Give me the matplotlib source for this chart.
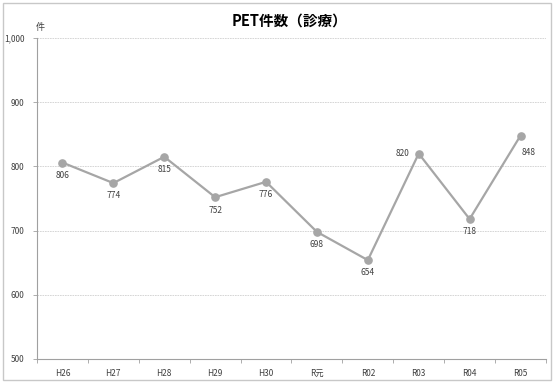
import matplotlib
matplotlib.use("Agg")
import matplotlib.pyplot as plt
from matplotlib.patches import Rectangle

plt.rcParams['font.family'] = ['Noto Sans CJK JP', 'DejaVu Sans']

# PET counts by fiscal year
years = ["H26", "H27", "H28", "H29", "H30", "R元", "R02", "R03", "R04", "R05"]
counts = [806, 774, 815, 752, 776, 698, 654, 820, 718, 848]
# where each value label sits relative to its point
label_pos = ["below"] * 7 + ["left", "below", "below-right"]

fig = plt.figure(figsize=(5.55, 3.83), dpi=100)
ax = fig.add_axes([0.0667, 0.0627, 0.917, 0.838])

x = list(range(len(years)))
ax.plot(x, counts, color="#A6A6A6", lw=1.6, marker="o", ms=5.2,
        markerfacecolor="#A6A6A6", markeredgecolor="#A6A6A6", zorder=3)

for xi, v, pos in zip(x, counts, label_pos):
    if pos == "left":
        ax.annotate(str(v), (xi, v), xytext=(-7, 0), textcoords="offset points",
                    ha="right", va="center", fontsize=6, color="#404040")
    elif pos == "below-right":
        ax.annotate(str(v), (xi, v), xytext=(6, -9), textcoords="offset points",
                    ha="center", va="top", fontsize=6, color="#404040")
    else:
        ax.annotate(str(v), (xi, v), xytext=(0, -6), textcoords="offset points",
                    ha="center", va="top", fontsize=6, color="#404040")

ax.set_xlim(-0.5, len(years) - 0.5)
ax.set_ylim(500, 1000)
ax.set_yticks(range(500, 1001, 100))
ax.set_yticklabels([f"{t:,}" for t in range(500, 1001, 100)])
ax.set_xticks(x)
ax.set_xticklabels(years)
ax.set_xticks([i - 0.5 for i in range(len(years) + 1)], minor=True)

ax.grid(axis="y", color="#D0D0D0", lw=0.6, ls=(0, (2, 1)))
ax.set_axisbelow(True)
for s in ["top", "right"]:
    ax.spines[s].set_visible(False)
for s in ["left", "bottom"]:
    ax.spines[s].set_color("#A0A0A0")
    ax.spines[s].set_linewidth(0.8)

ax.tick_params(axis="y", labelsize=6, colors="#404040", length=3, width=0.6,
               color="#A0A0A0", pad=6)
ax.tick_params(axis="x", which="major", labelsize=6, colors="#404040",
               length=0, pad=7)
ax.tick_params(axis="x", which="minor", length=3, width=0.6, color="#A0A0A0")

fig.text(0.522, 0.947, "PET件数（診療）", ha="center", va="center",
         fontsize=10.5, fontweight="bold", color="black")
fig.text(0.072, 0.929, "件", ha="center", va="center", fontsize=6.5,
         color="#404040")

# thin frame around the whole chart
fig.patches.append(Rectangle((3 / 555, 3 / 383), 548 / 555, 377 / 383,
                             transform=fig.transFigure, fill=False,
                             edgecolor="#C8C8C8", lw=1.0))

fig.savefig("out.png", dpi=100)
